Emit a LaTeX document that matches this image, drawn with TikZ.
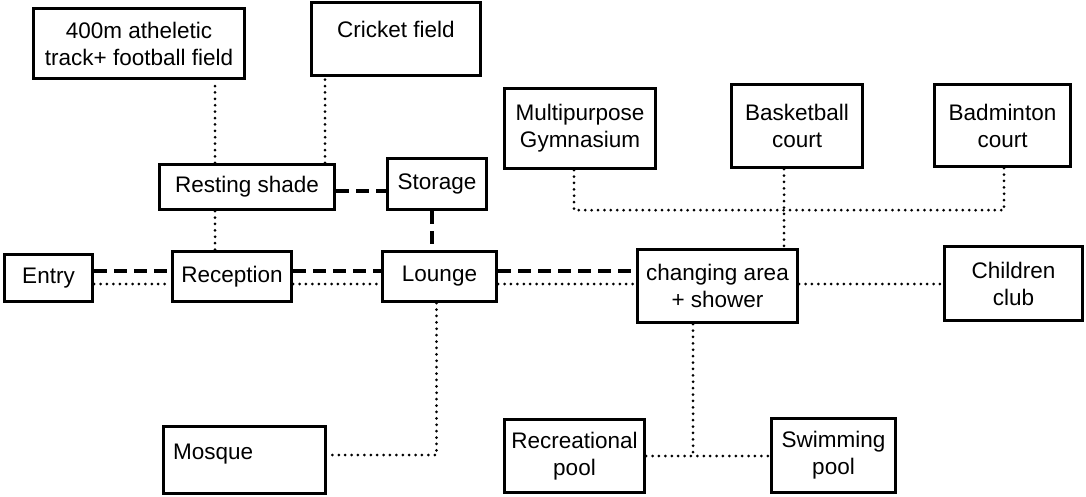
\documentclass[tikz,border=0pt]{standalone}
\usepackage{fontspec}
\setmainfont{Liberation Sans}
\begin{document}
\begin{tikzpicture}[x=1pt, y=-1pt,
      every node/.style={font=\fontsize{22.5}{27}\selectfont, align=center, inner sep=0pt},
      box/.style={draw, line width=3.3pt, rectangle},
      dotline/.style={line width=3pt, line cap=round, dash pattern=on 0pt off 6.4pt},
      dashline/.style={line width=3.2pt, dash pattern=on 13pt off 7pt}
    ]
    \useasboundingbox (0,0) rectangle (1086,497);

    % upper left: fields and shade
    \node[box, minimum width=211pt, minimum height=70pt] (track) at (139,43.5) {400m atheletic\\track+ football field};
    \node[box, minimum width=169pt, minimum height=73pt] (cricket) at (396,39) {};
    \node (crickettxt) at ([yshift=-29pt]cricket.north) {Cricket field};
    \node[box, minimum width=175pt, minimum height=45pt] (rest) at (247,187) {Resting shade};
    \node[box, minimum width=99pt, minimum height=51pt] (storage) at (437,184) {Storage};

    % main row
    \node[box, minimum width=88pt, minimum height=47pt] (entry) at (48.5,278) {Entry};
    \node[box, minimum width=119pt, minimum height=50pt] (recep) at (232,276.5) {Reception};
    \node[box, minimum width=114pt, minimum height=50pt] (lounge) at (439.5,276.5) {Lounge};
    \node[box, minimum width=160pt, minimum height=73pt] (changing) at (717.5,286) {changing area\\+ shower};
    \node[box, minimum width=138pt, minimum height=74pt] (children) at (1013.5,283.5) {Children\\club};

    % courts
    \node[box, minimum width=151pt, minimum height=80pt] (multi) at (580,128.5) {Multipurpose\\Gymnasium};
    \node[box, minimum width=131pt, minimum height=83pt] (basket) at (797,126) {Basketball\\court};
    \node[box, minimum width=136pt, minimum height=82pt] (badm) at (1002.5,125.5) {Badminton\\court};

    % bottom row
    \node[box, minimum width=162pt, minimum height=67pt] (mosque) at (244.5,460) {};
    \node[anchor=west] (mosquetxt) at ([xshift=11pt,yshift=6pt]mosque.west) {Mosque};
    \node[box, minimum width=140pt, minimum height=73pt] (recr) at (574.5,456) {Recreational\\pool};
    \node[box, minimum width=124pt, minimum height=74pt] (swim) at (833.5,455.5) {Swimming\\pool};

    % connectors
    \coordinate (tr) at ([xshift=-32pt]rest.north);
    \coordinate (rr) at ([xshift=-32pt]rest.south);
    \coordinate (cr) at ([xshift=78pt]rest.north);
    \draw[dotline] (tr) -- (tr |- track.south);
    \draw[dotline] (cr) -- (cr |- cricket.south);
    \draw[dotline] (rr) -- (rr |- recep.north);

    \coordinate (rs) at ([yshift=-4pt]rest.east);
    \draw[dashline] (rs) -- (rs -| storage.west);
    \coordinate (sl) at ([xshift=-5pt]storage.south);
    \draw[dashline] (sl) -- (sl |- lounge.north);

    \coordinate (ea) at ([yshift=7pt]entry.east);
    \coordinate (eb) at ([yshift=-6pt]entry.east);
    \draw[dashline] (ea) -- (ea -| recep.west);
    \draw[dotline] (eb) -- (eb -| recep.west);
    \coordinate (ra) at ([yshift=5.5pt]recep.east);
    \coordinate (rb) at ([yshift=-7.5pt]recep.east);
    \draw[dashline] (ra) -- (ra -| lounge.west);
    \draw[dotline] (rb) -- (rb -| lounge.west);
    \coordinate (la) at ([yshift=5.5pt]lounge.east);
    \coordinate (lb) at ([yshift=-7.5pt]lounge.east);
    \draw[dashline] (la) -- (la -| changing.west);
    \draw[dotline] (lb) -- (lb -| changing.west);
    \coordinate (cc) at ([yshift=2pt]changing.east);
    \draw[dotline] (cc) -- (cc -| children.west);

    \draw[dotline] ([xshift=-3pt]lounge.south) |- ([yshift=5pt]mosque.east);

    \draw[dotline] ([xshift=-6pt]multi.south) -- ++(0,40) -| ([xshift=1.5pt]badm.south);
    \coordinate (bk) at ([xshift=-13pt]basket.south);
    \draw[dotline] (bk) -- (bk |- changing.north);

    \coordinate (cp) at ([xshift=-24.5pt]changing.south);
    \draw[dotline] (cp) -- (cp |- recr.east);
    \draw[dotline] (recr.east) -- (recr.east -| swim.west);
\end{tikzpicture}
\end{document}
